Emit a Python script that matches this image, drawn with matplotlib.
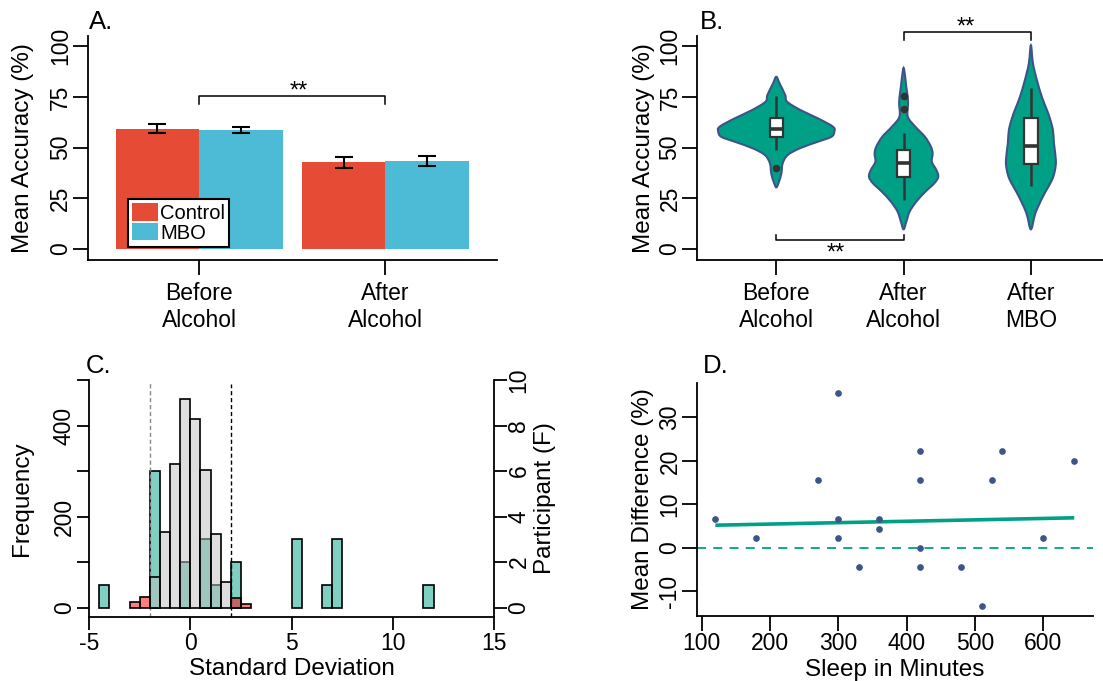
import numpy as np
import matplotlib
matplotlib.use('Agg')
import matplotlib.pyplot as plt
from matplotlib.path import Path
from matplotlib.patches import PathPatch, Patch, Rectangle

plt.rcParams['font.family'] = ['Liberation Sans', 'DejaVu Sans']
plt.rcParams['axes.unicode_minus'] = False

# ---------------- data ----------------
# Panel A
a_groups = ['Before\nAlcohol', 'After\nAlcohol']
a_series = ['Control', 'MBO']
a_control_mean = [59.4, 42.8]
a_control_se = [2.2, 2.7]
a_mbo_mean = [58.8, 43.4]
a_mbo_se = [1.4, 2.5]

# Panel B
b_groups = ['Before\nAlcohol', 'After\nAlcohol', 'After\nMBO']
b_q1 = [55.3, 35.5, 41.9]
b_median = [59.0, 42.2, 50.8]
b_q3 = [64.4, 48.8, 64.4]
b_whisk_lo = [48.9, 24.1, 30.9]
b_whisk_hi = [75.3, 57.4, 79.6]
b_outliers = [[39.7], [75.4, 68.9], []]
# violin outlines: accuracy level (bottom -> top) and half-width in category units
b_before_lvl = [30.4, 33.2, 37.3, 42.2, 46.3, 49.6, 52.9, 55.3, 57.8, 60.3, 64.4, 68.5, 72.6, 75.9, 81.6, 84.9]
b_before_hw = [0.0, 0.021, 0.040, 0.050, 0.089, 0.183, 0.327, 0.432, 0.456, 0.445, 0.327, 0.190, 0.085, 0.070, 0.026, 0.0]
b_after_lvl = [9.7, 13.4, 18.4, 23.3, 28.2, 32.4, 35.6, 38.9, 43.0, 47.1, 50.4, 55.3, 60.3, 65.2, 71.8, 76.0, 80.0, 85.0, 89.3]
b_after_hw = [0.0, 0.021, 0.047, 0.099, 0.170, 0.241, 0.272, 0.258, 0.222, 0.228, 0.215, 0.168, 0.092, 0.033, 0.035, 0.030, 0.021, 0.012, 0.0]
b_mbo_lvl = [9.7, 17.6, 25.8, 34.0, 38.9, 43.8, 52.1, 58.6, 64.4, 68.5, 75.0, 83.3, 91.5, 100.5]
b_mbo_hw = [0.0, 0.035, 0.094, 0.165, 0.189, 0.196, 0.181, 0.173, 0.149, 0.126, 0.086, 0.047, 0.016, 0.0]

# Panel C
c_bin_width = 0.5
c_gray_left = [-2.0, -1.5, -1.0, -0.5, 0.0, 0.5, 1.0, 1.5]
c_gray_freq = [68, 166, 316, 458, 414, 303, 162, 56]
c_red_left = [-3.0, -2.5, 2.0, 2.5]
c_red_freq = [12, 24, 22, 7]
c_teal_left = [-4.5, -2.0, -0.5, 0.5, 1.0, 2.0, 5.0, 6.5, 7.0, 11.5]
c_teal_count = [1, 6, 2, 3, 1, 2, 3, 1, 3, 1]
c_cutoffs = [-2, 2]

# Panel D
d_sleep = [120, 180, 270, 300, 300, 300, 330, 360, 360, 420, 420, 420, 420, 480, 510, 525, 540, 600, 645]
d_diff = [6.67, 2.22, 15.56, 35.56, 6.67, 2.22, -4.44, 6.67, 4.44, 22.22, 15.56, 0.0, -4.44, -4.44,
          -13.33, 15.56, 22.22, 2.22, 20.0]
d_fit_x = [120, 645]
d_fit_y = [5.2, 6.9]

# ---------------- style ----------------
RED = '#E64B35'
BLUE = '#4DBBD5'
TEAL = '#00A087'
NAVY = '#3C5488'
DARK = '#333333'
TICK_FS = 16.5
LAB_FS = 17.5

W, H = 1103, 681
fig = plt.figure(figsize=(W / 100, H / 100), dpi=100)


def ax_px(l, t, r, b):
    return fig.add_axes([l / W, 1 - b / H, (r - l) / W, (b - t) / H])


def style(ax, ticklen=11, right=False):
    ax.spines['top'].set_visible(False)
    if not right:
        ax.spines['right'].set_visible(False)
    for s in ax.spines.values():
        s.set_linewidth(1.3)
    ax.tick_params(direction='out', length=ticklen, width=1.3, labelsize=TICK_FS, colors='black')


def rot_yticklabels(ax):
    for lab in ax.get_yticklabels():
        lab.set_rotation(90)
        lab.set_va('center')


# ================= Panel A =================
l, t, r, b = 88, 36, 497, 260
axA = ax_px(l, t, r, b)
centers = np.array([1.33, 3.56])
bw = 1.0
axA.bar(centers - bw / 2, a_control_mean, width=bw, color=RED, zorder=2)
axA.bar(centers + bw / 2, a_mbo_mean, width=bw, color=BLUE, zorder=2)
axA.errorbar(centers - bw / 2, a_control_mean, yerr=a_control_se, fmt='none', ecolor='black',
             elinewidth=1.5, capsize=6.5, capthick=1.5, zorder=3)
axA.errorbar(centers + bw / 2, a_mbo_mean, yerr=a_mbo_se, fmt='none', ecolor='black',
             elinewidth=1.5, capsize=6.5, capthick=1.5, zorder=3)
axA.set_xlim(0, (r - l) / 83.5)
axA.set_ylim(-5.4, 105)
style(axA, ticklen=11)
axA.set_xticks(centers, a_groups)
axA.set_yticks([0, 25, 50, 75, 100])
rot_yticklabels(axA)
axA.tick_params(axis='y', pad=0.5)
axA.tick_params(axis='x', pad=5)
axA.set_ylabel('Mean Accuracy (%)', fontsize=LAB_FS, va='center')
axA.yaxis.set_label_coords((23 - l) / (r - l), 0.5)
# bracket
axA.plot([centers[0], centers[0], centers[1], centers[1]], [71.3, 75.5, 75.5, 71.3], color='black', lw=1.1)
axA.text(2.53, 77.5, '**', ha='center', va='center', fontsize=17)
leg = axA.legend([Patch(facecolor=RED), Patch(facecolor=BLUE)], a_series, loc='lower left',
                 bbox_to_anchor=((128 - l) / (r - l), (b - 247) / (b - t)), borderaxespad=0,
                 frameon=True, fancybox=False, edgecolor='black', framealpha=1, fontsize=14.5,
                 handlelength=1.25, handleheight=0.95, handletextpad=0.12, labelspacing=0.0,
                 borderpad=0.22)
leg.get_frame().set_linewidth(1.5)

# ================= Panel B =================
xl0, xl1 = 0.38, 3.62
unit = 127.3
l, t, r, b = 776.3 - (1 - xl0) * unit, 36, 776.3 + (xl1 - 1) * unit, 260
axB = ax_px(l, t, r, b)


def violin_patch(center, lvls, hws):
    right = [(center + w, y) for y, w in zip(lvls, hws)]
    left = [(center - w, y) for y, w in zip(lvls[::-1], hws[::-1])][1:-1]
    pts = np.array(right + left, dtype=float)
    n = len(pts)
    verts = [pts[0]]
    codes = [Path.MOVETO]
    for i in range(n):
        p0, p1, p2, p3 = pts[i - 1], pts[i], pts[(i + 1) % n], pts[(i + 2) % n]
        c1 = p1 + (p2 - p0) / 6.0
        c2 = p2 - (p3 - p1) / 6.0
        verts += [c1, c2, p2]
        codes += [Path.CURVE4] * 3
    verts.append(pts[0])
    codes.append(Path.CLOSEPOLY)
    return PathPatch(Path(verts, codes), facecolor=TEAL, edgecolor=NAVY, lw=1.5, zorder=2)


profiles = [(b_before_lvl, b_before_hw), (b_after_lvl, b_after_hw), (b_mbo_lvl, b_mbo_hw)]
boxw = 0.105
for i, (lv, hw) in enumerate(profiles):
    c = i + 1
    axB.add_patch(violin_patch(c, lv, hw))
    axB.plot([c, c], [b_whisk_lo[i], b_q1[i]], color=DARK, lw=1.8, zorder=3, solid_capstyle='butt')
    axB.plot([c, c], [b_q3[i], b_whisk_hi[i]], color=DARK, lw=1.8, zorder=3, solid_capstyle='butt')
    axB.add_patch(Rectangle((c - boxw / 2, b_q1[i]), boxw, b_q3[i] - b_q1[i], facecolor='white',
                            edgecolor=DARK, lw=1.6, zorder=4))
    axB.plot([c - boxw / 2, c + boxw / 2], [b_median[i]] * 2, color=DARK, lw=2.6, zorder=5,
             solid_capstyle='butt')
    if b_outliers[i]:
        axB.plot([c] * len(b_outliers[i]), b_outliers[i], 'o', color=DARK, ms=4.5, zorder=5)
axB.set_xlim(xl0, xl1)
axB.set_ylim(-5.4, 105)
style(axB, ticklen=11)
axB.set_xticks([1, 2, 3], b_groups)
axB.set_yticks([0, 25, 50, 75, 100])
rot_yticklabels(axB)
axB.tick_params(axis='y', pad=0.5)
axB.tick_params(axis='x', pad=5)
axB.set_ylabel('Mean Accuracy (%)', fontsize=LAB_FS, va='center')
axB.yaxis.set_label_coords((644 - l) / (r - l), 0.5)
axB.plot([2, 2, 3, 3], [103.0, 106.8, 106.8, 103.0], color='black', lw=1.1, clip_on=False)
axB.text(2.49, 109.0, '**', ha='center', va='center', fontsize=17, clip_on=False)
axB.plot([1, 1, 2, 2], [6.9, 4.4, 4.4, 6.9], color='black', lw=1.1)
axB.text(1.47, -2.0, '**', ha='center', va='center', fontsize=17)

# ================= Panel C =================
l, t, r, b = 89, 380, 494.3, 616.7
axC = ax_px(l, t, r, b)
axC2 = axC.twinx()
axC2.set_zorder(axC.get_zorder() - 1)
axC.patch.set_visible(False)
axC2.bar(c_teal_left, c_teal_count, width=c_bin_width, align='edge',
         facecolor=(0.0, 0.627, 0.529, 0.5), edgecolor='black', lw=1.2)
axC.axvline(c_cutoffs[0], ymax=0.995, color='#888888', lw=1.0, ls=(0, (3, 2)), zorder=0)
axC.axvline(c_cutoffs[1], ymax=0.985, color='black', lw=1.0, ls=(0, (3, 2)), zorder=0)
axC.bar(c_gray_left, c_gray_freq, width=c_bin_width, align='edge',
        facecolor=(0.745, 0.745, 0.745, 0.5), edgecolor='black', lw=1.2, zorder=2)
axC.bar(c_red_left, c_red_freq, width=c_bin_width, align='edge',
        facecolor=(1.0, 0.0, 0.0, 0.5), edgecolor='black', lw=1.2, zorder=2)
axC.set_xlim(-5, 15)
axC.set_ylim(-20, 500)
axC2.set_ylim(-0.4, 10)
style(axC, ticklen=9)
axC2.spines['top'].set_visible(False)
axC2.spines['right'].set_linewidth(1.3)
axC2.spines['left'].set_visible(False)
axC2.spines['bottom'].set_visible(False)
axC2.tick_params(direction='out', length=9, width=1.3, labelsize=TICK_FS, pad=0.5)
axC.set_xticks([-5, 0, 5, 10, 15])
axC.set_yticks([0, 100, 200, 300, 400, 500], ['0', '', '200', '', '400', ''])
rot_yticklabels(axC)
axC2.set_yticks([0, 2, 4, 6, 8, 10])
for lab in axC2.get_yticklabels():
    lab.set_rotation(90)
    lab.set_va('center')
axC.tick_params(axis='y', pad=0.5)
axC.tick_params(axis='x', pad=2)
axC.set_ylabel('Frequency', fontsize=LAB_FS, va='center')
axC.yaxis.set_label_coords((22 - l) / (r - l), 0.5)
axC2.set_ylabel('Participant (F)', fontsize=LAB_FS, va='center', rotation=90)
axC2.yaxis.set_label_coords((545 - l) / (r - l), 0.5)
axC.set_xlabel('Standard Deviation', fontsize=LAB_FS, va='center')
axC.xaxis.set_label_coords(0.5, -(669 - b) / (b - t))

# ================= Panel D =================
l, t, r, b = 696.7, 382.7, 1092.7, 616
axD = ax_px(l, t, r, b)
axD.axhline(0, color=TEAL, lw=1.3, ls=(0, (5, 4)), zorder=1)
axD.plot(d_fit_x, d_fit_y, color=TEAL, lw=2.6, zorder=2, solid_capstyle='butt')
axD.plot(d_sleep, d_diff, 'o', color=NAVY, ms=3.8, zorder=3)
axD.set_xlim(92.7, 672)
axD.set_ylim(-15.7, 38)
style(axD, ticklen=10.5)
axD.set_xticks([100, 200, 300, 400, 500, 600])
axD.set_yticks([-10, 0, 10, 20, 30])
rot_yticklabels(axD)
axD.tick_params(axis='y', pad=0.5)
axD.tick_params(axis='x', pad=1)
axD.set_ylabel('Mean Difference (%)', fontsize=LAB_FS, va='center')
axD.yaxis.set_label_coords((643 - l) / (r - l), 0.5)
axD.set_xlabel('Sleep in Minutes', fontsize=LAB_FS, va='center')
axD.xaxis.set_label_coords(0.5, -(670 - b) / (b - t))

# panel letters
for txt, x, y in [('A.', 89, 22), ('B.', 700, 22), ('C.', 86, 366), ('D.', 703, 366)]:
    fig.text(x / W, 1 - y / H, txt, fontsize=18.5, ha='left', va='center')

fig.savefig('out.png', dpi=100)
